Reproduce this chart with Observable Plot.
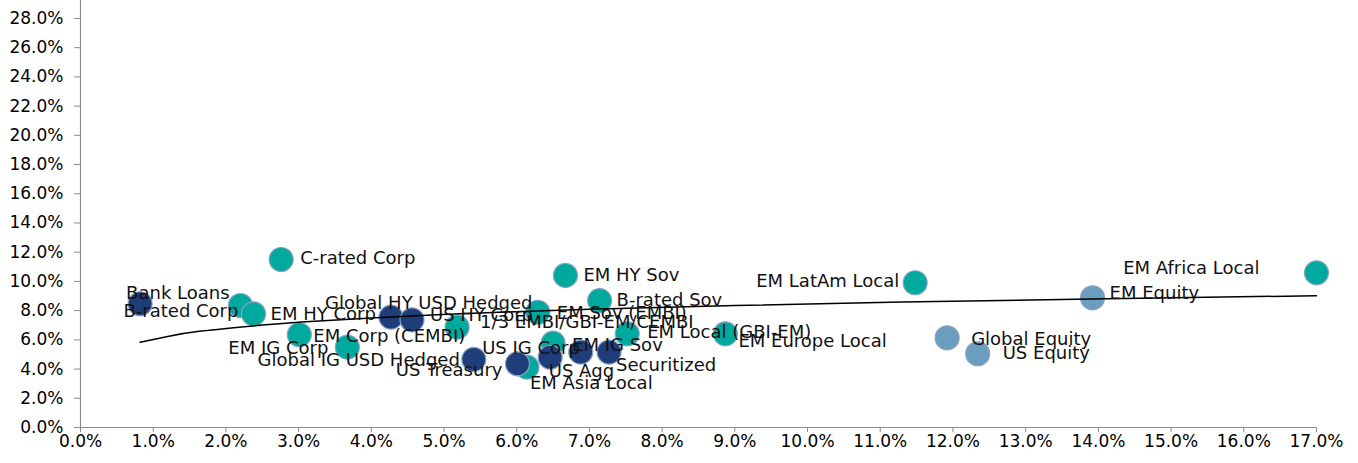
<!DOCTYPE html>
<html>
<head>
<meta charset="utf-8">
<script src="https://cdn.jsdelivr.net/npm/d3@7"></script>
<script src="https://cdn.jsdelivr.net/npm/@observablehq/plot@0.6"></script>
<style>
  html, body { margin: 0; padding: 0; background: white; }
  #wrap { position: relative; width: 1358px; height: 463px; overflow: hidden; }
  #title { position: absolute; left: 136px; top: -29px; font: bold 27px "Liberation Serif", serif; line-height: 27px; color: #000; white-space: nowrap; }
</style>
</head>
<body>
<div id="wrap"><div id="chart"></div><div id="title">Opportunity</div></div>
<script>
// ---- data ----
const assetNames = [
  "Bank Loans", "B-rated Corp", "EM HY Corp", "C-rated Corp", "EM Corp (CEMBI)", "EM IG Corp",
  "Global HY USD Hedged", "US HY Corp", "Global IG USD Hedged", "1/3 EMBI/GBI-EM/CEMBI",
  "US Treasury", "EM Asia Local", "EM Sov (EMBI)", "US IG Corp", "EM IG Sov", "EM HY Sov",
  "US Agg", "B-rated Sov", "Securitized", "EM Local (GBI-EM)", "EM Europe Local",
  "EM LatAm Local", "Global Equity", "US Equity", "EM Equity", "EM Africa Local"
];
const volatility = [
  0.82, 2.20, 2.38, 2.76, 3.01, 3.67,
  4.27, 4.56, 5.41, 5.18,
  6.01, 6.14, 6.29, 6.46, 6.50, 6.67,
  6.88, 7.14, 7.27, 7.52, 8.87,
  11.48, 11.92, 12.34, 13.92, 17.00
];
const yieldPct = [
  8.47, 8.35, 7.78, 11.50, 6.35, 5.50,
  7.55, 7.37, 4.66, 6.87,
  4.36, 4.13, 7.89, 4.81, 5.77, 10.41,
  5.16, 8.69, 5.16, 6.41, 6.41,
  9.91, 6.14, 5.05, 8.88, 10.59
];
const assetGroup = [
  "US/Global", "EM", "EM", "EM", "EM", "EM",
  "US/Global", "US/Global", "US/Global", "EM",
  "US/Global", "EM", "EM", "US/Global", "EM", "EM",
  "US/Global", "EM", "US/Global", "EM", "EM",
  "EM", "Equity", "Equity", "Equity", "EM"
];
// trend curve
const trendX = [0.82, 1.2, 1.66, 2.5, 3.04, 4.0, 5.5, 7.0, 9.0, 11.3, 13.9, 17.0];
const trendY = [5.83, 6.23, 6.60, 7.01, 7.22, 7.50, 7.84, 8.09, 8.35, 8.59, 8.80, 9.02];
const xTicks = [0,1,2,3,4,5,6,7,8,9,10,11,12,13,14,15,16,17];
const yTicks = [0,2,4,6,8,10,12,14,16,18,20,22,24,26,28];

// ---- layout / style (kept apart from data) ----
const groupDomain = ["EM", "US/Global", "Equity"];
const groupColors = ["#00A99D", "#1F3D78", "#6A9DBE"];
// label offsets in pixels: [dx, dy, anchor]
const labelLayout = {
  "Bank Loans": [-14, -11, "start"],
  "B-rated Corp": [-2, 6, "end"],
  "EM HY Corp": [17, 0, "start"],
  "C-rated Corp": [19, -1, "start"],
  "EM Corp (CEMBI)": [14, 1, "start"],
  "EM IG Corp": [-19, 1, "end"],
  "Global HY USD Hedged": [-66, -14, "start"],
  "US HY Corp": [18, -5, "start"],
  "Global IG USD Hedged": [-14, 1, "end"],
  "1/3 EMBI/GBI-EM/CEMBI": [23, -5, "start"],
  "US Treasury": [-15, 6, "end"],
  "EM Asia Local": [3, 16, "start"],
  "EM Sov (EMBI)": [19, 1, "start"],
  "US IG Corp": [-68, -9, "start"],
  "EM IG Sov": [19, 2, "start"],
  "EM HY Sov": [18, 0, "start"],
  "US Agg": [-32, 19, "start"],
  "B-rated Sov": [17, 0, "start"],
  "Securitized": [7, 13, "start"],
  "EM Local (GBI-EM)": [20, -2, "start"],
  "EM Europe Local": [13, 7, "start"],
  "EM LatAm Local": [-16, -1, "end"],
  "Global Equity": [24, 1, "start"],
  "US Equity": [25, 0, "start"],
  "EM Equity": [17, -5, "start"],
  "EM Africa Local": [-57, -5, "end"]
};

const points = assetNames.map((n, i) => ({name: n, x: volatility[i], y: yieldPct[i], group: assetGroup[i]}));
const trend = trendX.map((x, i) => ({x, y: trendY[i]}));
const pct = d => d.toFixed(1) + "%";

const labelMarks = assetNames.map(n => {
  const [dx, dy, anchor] = labelLayout[n];
  return Plot.text(points, {
    filter: d => d.name === n, x: "x", y: "y", text: "name",
    dx, dy, textAnchor: anchor, fill: "#111", fontSize: 18
  });
});

const chart = Plot.plot({
  width: 1358,
  height: 463,
  marginLeft: 80,
  marginRight: 42,
  marginTop: 0,
  marginBottom: 36,
  style: {fontFamily: "'DejaVu Sans', sans-serif", fontSize: "17px", background: "white", overflow: "visible"},
  x: {domain: [0, 17], label: null},
  y: {domain: [0, 29.23], label: null},
  color: {domain: groupDomain, range: groupColors},
  marks: [
    Plot.ruleX([0], {stroke: "#8c8c8c", strokeWidth: 1.2}),
    Plot.ruleY([0], {stroke: "#8c8c8c", strokeWidth: 1.2}),
    Plot.axisY(yTicks, {tickSize: 6, tickPadding: 11, tickFormat: pct, stroke: "#8c8c8c", fill: "#000", fontSize: 17, label: null}),
    Plot.axisX(xTicks, {tickSize: 5, tickPadding: 2, tickFormat: pct, stroke: "#8c8c8c", fill: "#000", fontSize: 17, label: null}),
    ...groupDomain.map(g => Plot.dot(points, {filter: d => d.group === g, x: "x", y: "y", r: 12, fill: "group", stroke: "#8aa3c2", strokeWidth: 1.2})),
    Plot.line(trend, {x: "x", y: "y", stroke: "#000", strokeWidth: 1.5, curve: "natural"}),
    ...labelMarks
  ]
});
document.getElementById("chart").appendChild(chart);
</script>
</body>
</html>
